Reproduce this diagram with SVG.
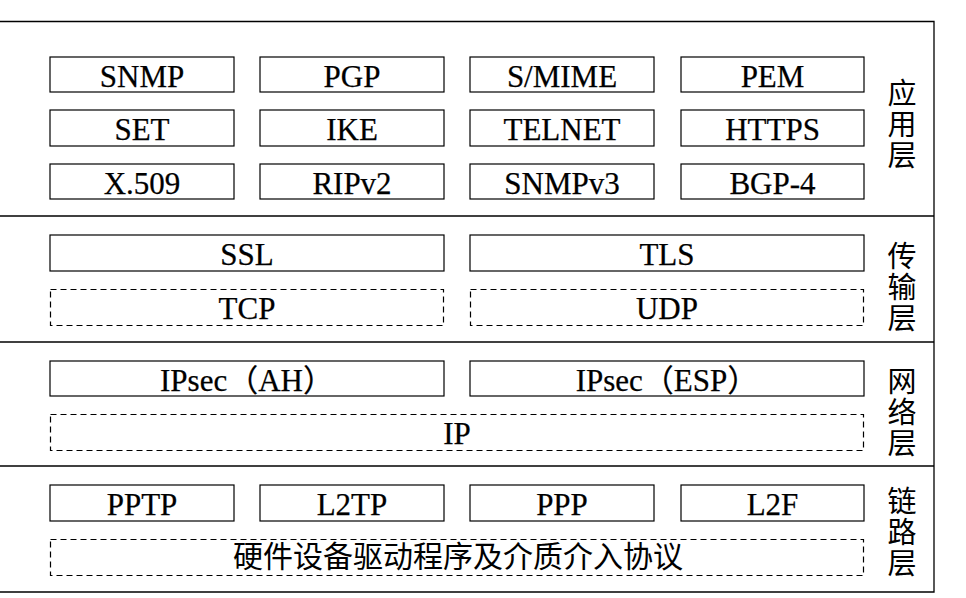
<svg xmlns="http://www.w3.org/2000/svg" width="966" height="598" viewBox="0 0 966 598">
  <style>
    .frame { fill: none; stroke: #000; stroke-width: 1.3; }
    .box { fill: #fff; stroke: #000; stroke-width: 1.2; }
    .dash { fill: #fff; stroke: #000; stroke-width: 1.2; stroke-dasharray: 6 4; }
    .lbl { font-family: "Liberation Serif", "Noto Sans CJK SC", serif; font-size: 31px; fill: #000; stroke: #000; stroke-width: 0.25; text-anchor: middle; }
    .cjk { font-family: "Noto Sans CJK SC", sans-serif; font-size: 29px; fill: #000; text-anchor: middle; }
    .side { font-family: "Noto Sans CJK SC", sans-serif; font-size: 29px; fill: #000; writing-mode: vertical-rl; letter-spacing: 2px; }
  </style>
  <rect width="966" height="598" fill="#fff"/>

  <!-- outer frame and layer separators -->
  <g id="frame">
    <polyline class="frame" points="0,21.5 934,21.5 934,592 0,592"/>
    <line class="frame" x1="0" y1="216" x2="934" y2="216"/>
    <line class="frame" x1="0" y1="342" x2="934" y2="342"/>
    <line class="frame" x1="0" y1="466" x2="934" y2="466"/>
  </g>

  <!-- application layer -->
  <g id="app-layer">
    <g id="snmp"><rect class="box" x="50" y="57" width="184" height="35"/><text class="lbl" x="142" y="87">SNMP</text></g>
    <g id="pgp"><rect class="box" x="260" y="57" width="184" height="35"/><text class="lbl" x="352" y="87">PGP</text></g>
    <g id="smime"><rect class="box" x="470" y="57" width="184" height="35"/><text class="lbl" x="562" y="87">S/MIME</text></g>
    <g id="pem"><rect class="box" x="681" y="57" width="183" height="35"/><text class="lbl" x="772.5" y="87">PEM</text></g>

    <g id="set"><rect class="box" x="50" y="110" width="184" height="36"/><text class="lbl" x="142" y="140">SET</text></g>
    <g id="ike"><rect class="box" x="260" y="110" width="184" height="36"/><text class="lbl" x="352" y="140">IKE</text></g>
    <g id="telnet"><rect class="box" x="470" y="110" width="184" height="36"/><text class="lbl" x="562" y="140">TELNET</text></g>
    <g id="https"><rect class="box" x="681" y="110" width="183" height="36"/><text class="lbl" x="772.5" y="140">HTTPS</text></g>

    <g id="x509"><rect class="box" x="50" y="164" width="184" height="35"/><text class="lbl" x="142" y="194">X.509</text></g>
    <g id="ripv2"><rect class="box" x="260" y="164" width="184" height="35"/><text class="lbl" x="352" y="194">RIPv2</text></g>
    <g id="snmpv3"><rect class="box" x="470" y="164" width="184" height="35"/><text class="lbl" x="562" y="194">SNMPv3</text></g>
    <g id="bgp4"><rect class="box" x="681" y="164" width="183" height="35"/><text class="lbl" x="772.5" y="194">BGP-4</text></g>

    <text id="app-title" class="side" x="902" y="78">应用层</text>
  </g>

  <!-- transport layer -->
  <g id="transport-layer">
    <g id="ssl"><rect class="box" x="50" y="235" width="394" height="36"/><text class="lbl" x="247" y="265">SSL</text></g>
    <g id="tls"><rect class="box" x="470" y="235" width="394" height="36"/><text class="lbl" x="667" y="265">TLS</text></g>
    <g id="tcp"><rect class="dash" x="50.5" y="289.5" width="393" height="36"/><text class="lbl" x="247" y="319">TCP</text></g>
    <g id="udp"><rect class="dash" x="470.5" y="289.5" width="393" height="36"/><text class="lbl" x="667" y="319">UDP</text></g>
    <text id="transport-title" class="side" x="902" y="241">传输层</text>
  </g>

  <!-- network layer -->
  <g id="network-layer">
    <g id="ipsec-ah"><rect class="box" x="50" y="361" width="394" height="35"/><text class="lbl" x="247" y="391">IPsec（AH）</text></g>
    <g id="ipsec-esp"><rect class="box" x="470" y="361" width="394" height="35"/><text class="lbl" x="667" y="391">IPsec（ESP）</text></g>
    <g id="ip"><rect class="dash" x="50.5" y="414.5" width="813" height="36"/><text class="lbl" x="457" y="444">IP</text></g>
    <text id="network-title" class="side" x="902" y="366">网络层</text>
  </g>

  <!-- data link layer -->
  <g id="link-layer">
    <g id="pptp"><rect class="box" x="50" y="485" width="184" height="36"/><text class="lbl" x="142" y="515">PPTP</text></g>
    <g id="l2tp"><rect class="box" x="260" y="485" width="184" height="36"/><text class="lbl" x="352" y="515">L2TP</text></g>
    <g id="ppp"><rect class="box" x="470" y="485" width="184" height="36"/><text class="lbl" x="562" y="515">PPP</text></g>
    <g id="l2f"><rect class="box" x="681" y="485" width="183" height="36"/><text class="lbl" x="772.5" y="515">L2F</text></g>
    <g id="driver"><rect class="dash" x="50.5" y="539.5" width="813" height="36"/><text class="cjk" x="458" y="567" style="font-size:30px">硬件设备驱动程序及介质介入协议</text></g>
    <text id="link-title" class="side" x="902" y="486">链路层</text>
  </g>

  <!-- no connectors in this layer stack -->
  <g id="connectors"/>
</svg>
